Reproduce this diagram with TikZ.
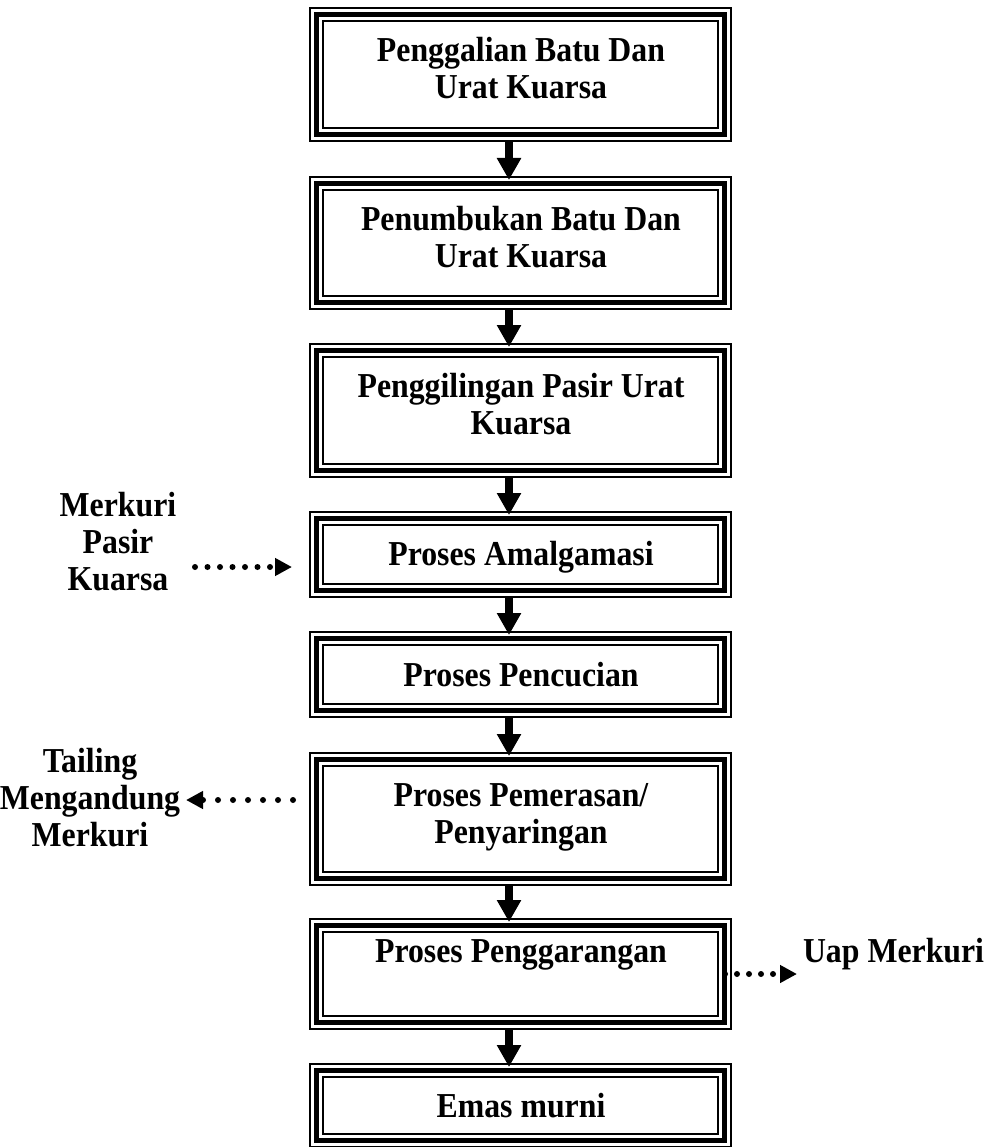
\documentclass[tikz,border=0pt]{standalone}
\usepackage{fontspec}
\setmainfont{Liberation Serif}
\usetikzlibrary{arrows.meta}
\newcommand{\stretchtext}[1]{\scalebox{1}[1.1]{\begin{tabular}{@{}c@{}}#1\end{tabular}}}
\begin{document}
\begin{tikzpicture}[x=1pt,y=-1pt,
  every node/.style={inner sep=0pt, outer sep=0pt},
  lbl/.style={font=\fontsize{31.8}{33.6}\selectfont\bfseries, anchor=north},
  frame/.style={minimum width=423pt, anchor=north west},
  thinln/.style={draw, line width=1.5pt},
  thickln/.style={draw, line width=5.3pt},
  flow/.style={line width=7.7pt, -{Triangle[width=23pt,length=22pt]}},
  dotflow/.style={line width=6pt, line cap=round, -{Triangle[width=17pt,length=17pt]}}
]
\useasboundingbox[fill=white] (0,0) rectangle (990,1147);

% boxes (outer frame)
\node[frame, minimum height=135pt] (b1) at (309,7) {};
\node[frame, minimum height=134pt] (b2) at (309,176) {};
\node[frame, minimum height=135pt] (b3) at (309,343) {};
\node[frame, minimum height=87pt] (b4) at (309,511) {};
\node[frame, minimum height=87pt] (b5) at (309,631) {};
\node[frame, minimum height=134pt] (b6) at (309,752) {};
\node[frame, minimum height=112pt] (b7) at (309,918) {};
\node[frame, minimum height=85pt] (b8) at (309,1063) {};

\foreach \b in {b1,b2,b3,b4,b5,b6,b7,b8}{
  \draw[thinln] ([shift={(0.8,0.8)}]\b.north west) rectangle ([shift={(-0.8,-0.8)}]\b.south east);
  \draw[thickln] ([shift={(7.3,7.3)}]\b.north west) rectangle ([shift={(-7.3,-7.3)}]\b.south east);
  \draw[thinln] ([shift={(13.8,13.8)}]\b.north west) rectangle ([shift={(-13.8,-13.8)}]\b.south east);
}

% texts in boxes
\node[lbl] (t1) at (521,36.1) {\stretchtext{Penggalian Batu Dan\\Urat Kuarsa}};
\node[lbl] (t2) at (521,205.1) {\stretchtext{Penumbukan Batu Dan\\Urat Kuarsa}};
\node[lbl] (t3) at (521,372.1) {\stretchtext{Penggilingan Pasir Urat\\Kuarsa}};
\node[lbl] (t4) at (521,540.1) {\stretchtext{Proses Amalgamasi}};
\node[lbl] (t5) at (521,661.1) {\stretchtext{Proses Pencucian}};
\node[lbl] (t6) at (521,781.1) {\stretchtext{Proses Pemerasan/\\Penyaringan}};
\node[lbl] (t7) at (521,937.1) {\stretchtext{Proses Penggarangan}};
\node[lbl] (t8) at (521,1092.1) {\stretchtext{Emas murni}};

% side labels
\node[lbl] (m1) at (118,491.1) {\stretchtext{Merkuri\\Pasir\\Kuarsa}};
\node[lbl] (m2) at (90,747.1) {\stretchtext{Tailing\\Mengandung\\Merkuri}};
\node[lbl, anchor=north west] (m3) at (803,937.1) {\stretchtext{Uap Merkuri}};

% main flow arrows
\draw[flow] ([xshift=-11.5pt]b1.south) -- ([xshift=-11.5pt,yshift=-4pt]b2.north);
\draw[flow] ([xshift=-11.5pt]b2.south) -- ([xshift=-11.5pt,yshift=-4pt]b3.north);
\draw[flow] ([xshift=-11.5pt]b3.south) -- ([xshift=-11.5pt,yshift=-4pt]b4.north);
\draw[flow] ([xshift=-11.5pt]b4.south) -- ([xshift=-11.5pt,yshift=-4pt]b5.north);
\draw[flow] ([xshift=-11.5pt]b5.south) -- ([xshift=-11.5pt,yshift=-4pt]b6.north);
\draw[flow] ([xshift=-11.5pt]b6.south) -- ([xshift=-11.5pt,yshift=-4pt]b7.north);
\draw[flow] ([xshift=-11.5pt]b7.south) -- ([xshift=-11.5pt,yshift=-4pt]b8.north);

% dotted side arrows
\coordinate (d1s) at (195,567);
\coordinate (d1e) at (292,567);
\draw[dotflow, dash pattern=on 0pt off 12.5pt] (d1s) -- (d1e);

\coordinate (d2s) at (293,800);
\coordinate (d2e) at (186,800);
\draw[dotflow, dash pattern=on 0pt off 15pt] (d2s) -- (d2e);

\coordinate (d3s) at (725,974);
\coordinate (d3e) at (797,974);
\draw[dotflow, dash pattern=on 0pt off 12pt] (d3s) -- (d3e);
\end{tikzpicture}
\end{document}
